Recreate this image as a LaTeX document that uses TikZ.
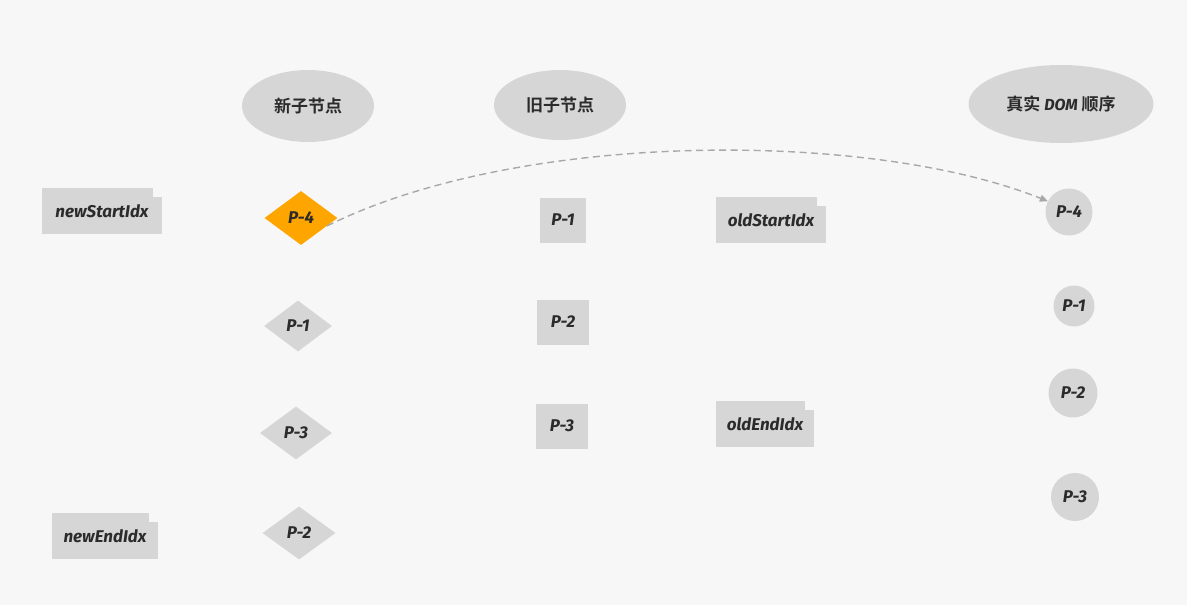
\documentclass[tikz,border=0pt]{standalone}
\usepackage{fontspec}
\setmainfont{Fira Sans}
\newfontfamily\cjk{Noto Sans CJK SC}[BoldFont=* Bold]
\usetikzlibrary{shapes.geometric,arrows.meta}
\definecolor{bg}{HTML}{F7F7F7}
\definecolor{boxgray}{HTML}{D6D6D6}
\definecolor{ink}{HTML}{2B2B2B}
\definecolor{hilite}{HTML}{FFA500}
\definecolor{linkgray}{HTML}{A8A8A8}
\tikzset{
  x=1pt, y=-1pt,
  every node/.style={text=ink, inner sep=0pt, font=\itshape\bfseries\fontsize{17}{19}\selectfont},
  header/.style={ellipse, fill=boxgray, font=\cjk\bfseries\fontsize{17}{19}\selectfont},
  newitem/.style={diamond, fill=boxgray, aspect=1.36, minimum width=68pt, minimum height=51pt},
  olditem/.style={rectangle, fill=boxgray, minimum width=49pt, minimum height=45pt},
  domitem/.style={circle, fill=boxgray, minimum size=47pt},
  idxtab/.style={rectangle, fill=boxgray, minimum height=46pt},
  link/.style={draw=linkgray, line width=1.4pt, dash pattern=on 7pt off 4.5pt, -{Triangle[length=8pt,width=7pt]}}
}
% folder-like index label: grey box with a small step cut from its top right corner
\newcommand{\tabcut}[1]{\fill[bg] (#1.north east) rectangle ++(-9,9);}
\begin{document}
\begin{tikzpicture}
\fill[bg] (0,0) rectangle (1187,605);
\useasboundingbox (0,0) rectangle (1187,605);

% column headers
\node[header, minimum width=132pt, minimum height=72pt] (hnew) at (308,106) {新子节点};
\node[header, minimum width=132pt, minimum height=70pt] (hold) at (560,105) {旧子节点};
\node[header, minimum width=185pt, minimum height=78pt] (hdom) at (1061,104) {真实 {\rmfamily\itshape\bfseries\fontsize{16}{18}\selectfont DOM} 顺序};

% new children
\node[newitem, fill=hilite, minimum width=73pt, minimum height=54pt] (n4) at (301,218) {P-4};
\node[newitem] (n1) at (298,326) {P-1};
\node[newitem, minimum width=72pt, minimum height=53pt] (n3) at (296,433) {P-3};
\node[newitem, minimum width=73pt, minimum height=53pt] (n2) at (299,533) {P-2};

% old children
\node[olditem, minimum width=46pt] (o1) at (563,220) {P-1};
\node[olditem, minimum width=52pt] (o2) at (563,322) {P-2};
\node[olditem, minimum width=52pt] (o3) at (562,426) {P-3};

% real DOM order
\node[domitem] (d4) at (1069,212) {P-4};
\node[domitem, minimum size=41pt] (d1) at (1074,306) {P-1};
\node[domitem, minimum size=49pt] (d2) at (1073,393) {P-2};
\node[domitem, minimum size=48pt] (d3) at (1075,497) {P-3};

% index pointers
\node[idxtab, minimum width=120pt] (ns) at (102,211) {newStartIdx};
\tabcut{ns}
\node[idxtab, minimum width=106pt] (ne) at (105,536) {newEndIdx};
\tabcut{ne}
\node[idxtab, minimum width=110pt] (os) at (771,220) {oldStartIdx};
\tabcut{os}
\node[idxtab, minimum width=98pt] (oe) at (765,424) {oldEndIdx};
\tabcut{oe}

% P-4 moves to the front of the real DOM
\draw[link] (n4.-17) .. controls (520,130) and (870,130) .. (d4.153);
\end{tikzpicture}
\end{document}
